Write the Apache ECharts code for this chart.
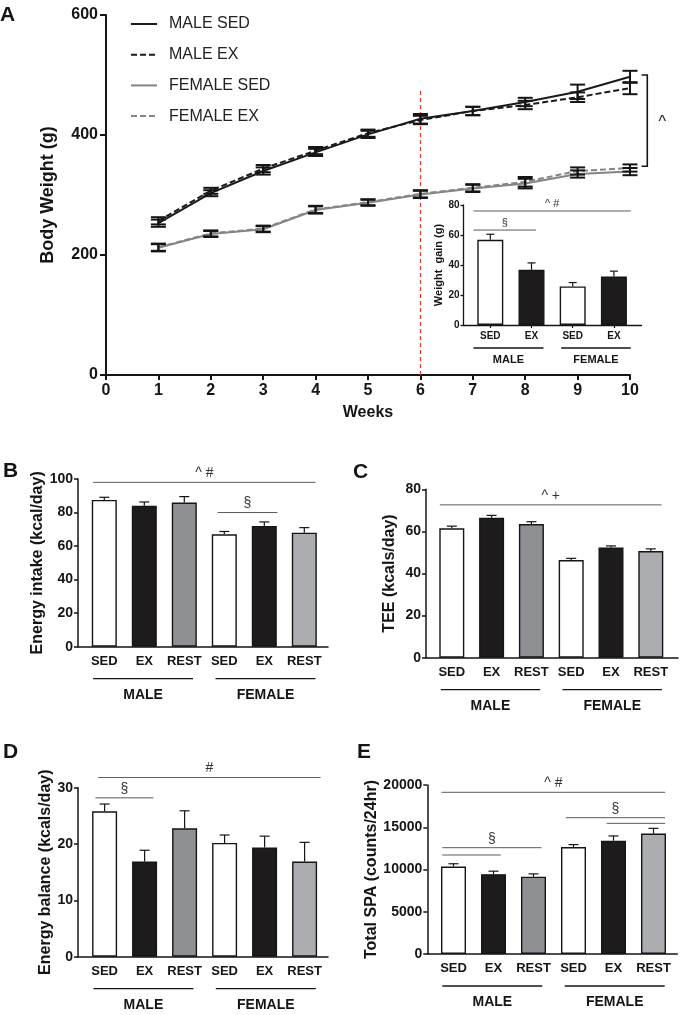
<!DOCTYPE html>
<html><head><meta charset="utf-8">
<script src="https://cdn.jsdelivr.net/npm/echarts@6/dist/echarts.min.js"></script>
<style>html,body{margin:0;padding:0;background:#fff}#c{width:680px;height:1015px}</style>
</head><body><div id="c"></div>
<script>
const FONT = '"Liberation Sans", Arial, Helvetica, sans-serif';
const INK = '#151515';

// ---------- Panel A : body weight over weeks ----------
const weeks = [1, 2, 3, 4, 5, 6, 7, 8, 9, 10];
const maleSed      = [253, 303, 340, 371, 401, 427, 440, 455, 472, 497];
const maleSedErr   = [6, 5, 6, 6, 6, 8, 7, 7, 12, 10];
const maleEx       = [257, 307, 344, 374, 403, 425, 440, 450, 463, 478];
const maleExErr    = [6, 5, 6, 6, 6, 7, 7, 7, 8, 10];
const femaleSed    = [212, 235, 243, 275, 287, 301, 311, 319, 335, 339];
const femaleSedErr = [6, 5, 5, 6, 5, 6, 6, 8, 6, 6];
const femaleEx     = [213, 236, 244, 276, 288, 302, 312, 322, 340, 345];
const femaleExErr  = [6, 5, 5, 6, 5, 6, 6, 8, 6, 6];
const markWeek = 6, markTop = 478;
const bracketA = { x1: 10.22, x2: 10.33, top: 500, bottom: 348, text: '^' };

// ---------- Inset : weight gain ----------
const gainCats = ['SED', 'EX', 'SED', 'EX'];
const gain     = [56.8, 36.8, 25.7, 32.3];
const gainErr  = [3.7, 4.6, 2.6, 3.6];

// ---------- Panels B-E ----------
const cats6 = ['SED', 'EX', 'REST', 'SED', 'EX', 'REST'];
const intake     = [87.5, 84, 86, 67, 72, 68];
const intakeErr  = [1.6, 2.3, 3.5, 1.7, 2.4, 3.0];
const tee        = [61.5, 66.5, 63.5, 46.4, 52.3, 50.7];
const teeErr     = [1.0, 1.1, 1.1, 0.8, 0.8, 1.0];
const balance    = [25.8, 16.9, 22.8, 20.2, 19.4, 16.9];
const balanceErr = [1.3, 2.0, 3.1, 1.4, 2.0, 3.4];
const spa        = [10350, 9450, 9150, 12650, 13400, 14250];
const spaErr     = [330, 350, 330, 300, 570, 620];

// significance annotations (positions in category units, height in data units)
const sigInset = [{from: -0.41, to: 3.41, y: 76, text: '^ #'}, {from: -0.41, to: 1.11, y: 63.3, text: '§'}];
const sigB = [{from: -0.28, to: 5.28, y: 98, text: '^ #'}, {from: 2.83, to: 4.33, y: 80, text: '§'}];
const sigC = [{from: -0.3, to: 5.27, y: 72.6, text: '^ +'}];
const sigD = [{from: -0.16, to: 5.4, y: 31.8, text: '#'}, {from: -0.23, to: 1.22, y: 28.2, text: '§'}];
const sigE = [{from: -0.3, to: 5.29, y: 19136, text: '^ #'},
              {from: 2.81, to: 5.29, y: 16130, text: '§'},
              {from: 3.83, to: 5.29, y: 15462, text: ''},
              {from: -0.28, to: 2.2, y: 12580, text: '§'},
              {from: -0.28, to: 1.18, y: 11716, text: ''}];
const groups6 = [{from: -0.28, to: 2.22, text: 'MALE'}, {from: 2.78, to: 5.28, text: 'FEMALE'}];
const groups4 = [{from: -0.41, to: 1.29, text: 'MALE'}, {from: 1.72, to: 3.41, text: 'FEMALE'}];

const fills6 = ['#ffffff', '#1e1b1c', '#8f9093', '#ffffff', '#1e1b1c', '#abadb0'];
const fills4 = ['#ffffff', '#1e1b1c', '#ffffff', '#1e1b1c'];

const option = {
  animation: false,
  backgroundColor: '#ffffff',
  textStyle: {fontFamily: FONT},
  grid: [], xAxis: [], yAxis: [], series: [], graphic: []
};
function addGrid(g) { option.grid.push(Object.assign({containLabel: false}, g)); return option.grid.length - 1; }

function errSeries(xi, yi, data, o) {
  return {
    type: 'custom', xAxisIndex: xi, yAxisIndex: yi, silent: true, clip: false, z: o.z || 4,
    data: data, encode: {x: 0, y: 1},
    renderItem: function (params, api) {
      const x = api.value(0), v = api.value(1), e = api.value(2);
      const pTop = api.coord([x, v + e]);
      const pBot = api.coord([x, o.both ? v - e : v]);
      const hw = o.cap / 2;
      const st = {stroke: INK, lineWidth: o.lw};
      const ch = [
        {type: 'line', shape: {x1: pTop[0], y1: pTop[1], x2: pBot[0], y2: pBot[1]}, style: st},
        {type: 'line', shape: {x1: pTop[0] - hw, y1: pTop[1], x2: pTop[0] + hw, y2: pTop[1]}, style: st}
      ];
      if (o.both) ch.push({type: 'line', shape: {x1: pBot[0] - hw, y1: pBot[1], x2: pBot[0] + hw, y2: pBot[1]}, style: st});
      return {type: 'group', children: ch};
    }
  };
}

function annotSeries(xi, yi, sigs, groups, o) {
  const items = sigs.map(s => ({kind: 'sig', s: s})).concat(groups.map(g => ({kind: 'grp', s: g})));
  return {
    type: 'custom', xAxisIndex: xi, yAxisIndex: yi, silent: true, clip: false, z: 5,
    data: items.map(() => [0, o.ymin]), encode: {x: 0, y: 1},
    renderItem: function (params, api) {
      const it = items[params.dataIndex];
      const band = api.size([1, 0])[0];
      const x0 = api.coord([0, o.ymin])[0];
      const xa = x0 + it.s.from * band, xb = x0 + it.s.to * band;
      const ch = [];
      if (it.kind === 'sig') {
        const y = api.coord([0, it.s.y])[1];
        ch.push({type: 'line', shape: {x1: xa, y1: y, x2: xb, y2: y}, style: {stroke: '#5a5a5a', lineWidth: 1}});
        if (it.s.text) ch.push({type: 'text', style: {text: it.s.text, x: (xa + xb) / 2, y: y - o.sigGap,
          align: 'center', verticalAlign: 'bottom', font: o.sigFont, fill: '#333'}});
      } else {
        const base = api.coord([0, o.ymin])[1];
        const y = base + o.grpLine;
        ch.push({type: 'line', shape: {x1: xa, y1: y, x2: xb, y2: y}, style: {stroke: INK, lineWidth: 1.3}});
        ch.push({type: 'text', style: {text: it.s.text, x: (xa + xb) / 2, y: base + o.grpText,
          align: 'center', verticalAlign: 'middle', font: o.grpFont, fill: INK}});
      }
      return {type: 'group', children: ch};
    }
  };
}

function barPanel(p) {
  const barsLeft = p.firstCenter - p.band / 2;
  const gi = addGrid({left: barsLeft, top: p.top, width: p.band * p.cats.length, height: p.height});
  const gl = addGrid({left: p.axisLeft, top: p.top, width: p.axisWidth, height: p.height});
  const xi = option.xAxis.length;
  option.xAxis.push({
    gridIndex: gi, type: 'category', data: p.cats,
    axisLine: {show: false},
    axisTick: {show: !!p.xTicks, alignWithLabel: true, length: 3, lineStyle: {color: INK, width: 1.2}},
    axisLabel: {interval: 0, color: INK, fontWeight: 'bold', fontSize: p.catFont, margin: p.catMargin, fontFamily: FONT},
    splitLine: {show: false}
  });
  option.xAxis.push({
    gridIndex: gl, type: 'value', min: 0, max: 1,
    axisLine: {show: true, onZero: false, lineStyle: {color: INK, width: p.axisW}},
    axisTick: {show: false}, axisLabel: {show: false}, splitLine: {show: false}
  });
  const yi = option.yAxis.length;
  option.yAxis.push({
    gridIndex: gi, type: 'value', min: p.ymin, max: p.ymax, interval: p.interval,
    offset: barsLeft - p.axisLeft,
    name: p.name, nameLocation: 'middle', nameRotate: 90, nameGap: p.nameGap,
    nameTextStyle: {fontWeight: 'bold', fontSize: p.nameFont, color: INK, fontFamily: FONT},
    axisLine: {show: true, lineStyle: {color: INK, width: p.axisW}},
    axisTick: {show: true, length: p.tickLen, lineStyle: {color: INK, width: p.axisW}},
    axisLabel: {color: INK, fontWeight: 'bold', fontSize: p.tickFont, margin: p.tickMargin, fontFamily: FONT,
      formatter: function (v) { return String(v); }},
    splitLine: {show: false}
  });
  option.yAxis.push({gridIndex: gl, type: 'value', min: 0, max: 1, show: false});
  option.series.push({
    type: 'bar', xAxisIndex: xi, yAxisIndex: yi, barWidth: p.barWidth, z: 2,
    data: p.vals.map((v, i) => ({value: v, itemStyle: {color: p.fills[i]}})),
    itemStyle: {borderColor: INK, borderWidth: 1.4}
  });
  option.series.push(errSeries(xi, yi, p.vals.map((v, i) => [i, v, p.errs[i]]), {cap: p.cap, lw: 1.2, both: false, z: 3}));
  option.series.push(annotSeries(xi, yi, p.sigs, p.groups, {
    ymin: p.ymin, sigGap: 2, sigFont: p.sigFont, grpLine: p.grpLine, grpText: p.grpText, grpFont: p.grpFont}));
}

// ---------- Panel A build ----------
const gA = addGrid({left: 106, top: 15, width: 524, height: 360});
const xA = option.xAxis.length;
option.xAxis.push({
  gridIndex: gA, type: 'value', min: 0, max: 10, interval: 1,
  name: 'Weeks', nameLocation: 'middle', nameGap: 30,
  nameTextStyle: {fontWeight: 'bold', fontSize: 16, color: INK, fontFamily: FONT},
  axisLine: {onZero: false, lineStyle: {color: INK, width: 2}},
  axisTick: {length: 5, lineStyle: {color: INK, width: 2}},
  axisLabel: {color: INK, fontWeight: 'bold', fontSize: 16, margin: 8, fontFamily: FONT},
  splitLine: {show: false}
});
const yA = option.yAxis.length;
option.yAxis.push({
  gridIndex: gA, type: 'value', min: 0, max: 600, interval: 200,
  name: 'Body Weight (g)', nameLocation: 'middle', nameRotate: 90, nameGap: 49,
  nameTextStyle: {fontWeight: 'bold', fontSize: 18, color: INK, fontFamily: FONT},
  axisLine: {show: true, lineStyle: {color: INK, width: 2}},
  axisTick: {show: true, length: 6, lineStyle: {color: INK, width: 2}},
  axisLabel: {color: INK, fontWeight: 'bold', fontSize: 16, margin: 8, fontFamily: FONT},
  splitLine: {show: false}
});
function lineSeries(name, vals, color, dashed) {
  return {
    name: name, type: 'line', xAxisIndex: xA, yAxisIndex: yA, symbol: 'none', z: 3,
    data: weeks.map((w, i) => [w, vals[i]]),
    lineStyle: {color: color, width: 2, type: dashed ? [6, 3] : 'solid'},
    itemStyle: {color: color}
  };
}
const sMaleSed = lineSeries('MALE SED', maleSed, '#1a1a1a', false);
sMaleSed.markLine = {
  silent: true, symbol: 'none', label: {show: false},
  lineStyle: {color: '#e8322b', type: [4, 3], width: 1.2},
  data: [[{coord: [markWeek, 0]}, {coord: [markWeek, markTop]}]]
};
option.series.push(sMaleSed,
  lineSeries('MALE EX', maleEx, '#1a1a1a', true),
  lineSeries('FEMALE SED', femaleSed, '#858585', false),
  lineSeries('FEMALE EX', femaleEx, '#858585', true));
[[maleSed, maleSedErr], [maleEx, maleExErr], [femaleSed, femaleSedErr], [femaleEx, femaleExErr]].forEach(function (pair) {
  option.series.push(errSeries(xA, yA, weeks.map((w, i) => [w, pair[0][i], pair[1][i]]), {cap: 15, lw: 2, both: true, z: 6}));
});
option.series.push({
  type: 'custom', xAxisIndex: xA, yAxisIndex: yA, silent: true, clip: false, z: 6,
  data: [[bracketA.x2, bracketA.top]], encode: {x: 0, y: 1},
  renderItem: function (params, api) {
    const a = api.coord([bracketA.x1, bracketA.top]);
    const b = api.coord([bracketA.x2, bracketA.top]);
    const c = api.coord([bracketA.x2, bracketA.bottom]);
    const d = api.coord([bracketA.x1, bracketA.bottom]);
    return {type: 'group', children: [
      {type: 'polyline', shape: {points: [a, b, c, d]}, style: {stroke: INK, lineWidth: 1.6, fill: null}},
      {type: 'text', style: {text: bracketA.text, x: b[0] + 15, y: (b[1] + c[1]) / 2 + 2, align: 'center', verticalAlign: 'middle',
        font: '16px ' + FONT, fill: INK}}
    ]};
  }
});
option.legend = {
  orient: 'vertical', left: 125, top: 11, itemWidth: 26, itemHeight: 14, itemGap: 14.7,
  selectedMode: false,
  itemStyle: {opacity: 0, borderWidth: 0, color: 'rgba(0,0,0,0)'},
  textStyle: {fontSize: 16, color: '#222', fontFamily: FONT, padding: [0, 0, 0, 7], lineHeight: 16},
  data: ['MALE SED', 'MALE EX', 'FEMALE SED', 'FEMALE EX']
};

// ---------- Inset ----------
barPanel({
  cats: gainCats, vals: gain, errs: gainErr, fills: fills4,
  axisLeft: 463.5, axisWidth: 178, top: 205, height: 120, band: 41.2, firstCenter: 490.3,
  ymin: 0, ymax: 80, interval: 20, name: 'Weight  gain (g)', nameGap: 15, nameFont: 11,
  tickFont: 10, tickLen: 3, tickMargin: 4, catFont: 10, catMargin: 6, xTicks: true, axisW: 1.3,
  barWidth: 26, cap: 8, sigs: sigInset, groups: groups4, sigFont: '11px ' + FONT,
  grpLine: 23, grpText: 35, grpFont: 'bold 11px ' + FONT
});

const common = {tickFont: 14, tickLen: 4, tickMargin: 5, catFont: 13, catMargin: 8, axisW: 1.5,
  barWidth: 25, cap: 10, sigFont: '14px ' + FONT, grpLine: 32, grpText: 48, grpFont: 'bold 14px ' + FONT,
  nameFont: 16, groups: groups6, cats: cats6, fills: fills6, ymin: 0};

barPanel(Object.assign({}, common, {vals: intake, errs: intakeErr, axisLeft: 78, axisWidth: 250, top: 479, height: 167.7,
  band: 40, firstCenter: 104.3, ymax: 100, interval: 20, name: 'Energy intake (kcal/day)', nameGap: 32, sigs: sigB}));
barPanel(Object.assign({}, common, {vals: tee, errs: teeErr, axisLeft: 426, axisWidth: 252, top: 489.3, height: 168.4,
  band: 39.8, firstCenter: 451.8, ymax: 80, interval: 20, name: 'TEE (kcals/day)', nameGap: 28, sigs: sigC}));
barPanel(Object.assign({}, common, {vals: balance, errs: balanceErr, axisLeft: 78, axisWidth: 250, top: 787.7, height: 169,
  band: 40, firstCenter: 104.6, ymax: 30, interval: 10, name: 'Energy balance (kcals/day)', nameGap: 23, sigs: sigD}));
barPanel(Object.assign({}, common, {vals: spa, errs: spaErr, axisLeft: 427.3, axisWidth: 250, top: 785, height: 169,
  band: 40, firstCenter: 453.5, ymax: 20000, interval: 5000, name: 'Total SPA (counts/24hr)', nameGap: 47, sigs: sigE}));

// panel letters
[['A', 0, 5], ['B', 3, 461], ['C', 353, 462], ['D', 3, 742], ['E', 357, 742]].forEach(function (t) {
  option.graphic.push({type: 'text', left: t[1], top: t[2], silent: true,
    style: {text: t[0], font: 'bold 21px ' + FONT, fill: INK}});
});

const chart = echarts.init(document.getElementById('c'), null, {renderer: 'canvas'});
chart.setOption(option);
</script>
</body></html>
